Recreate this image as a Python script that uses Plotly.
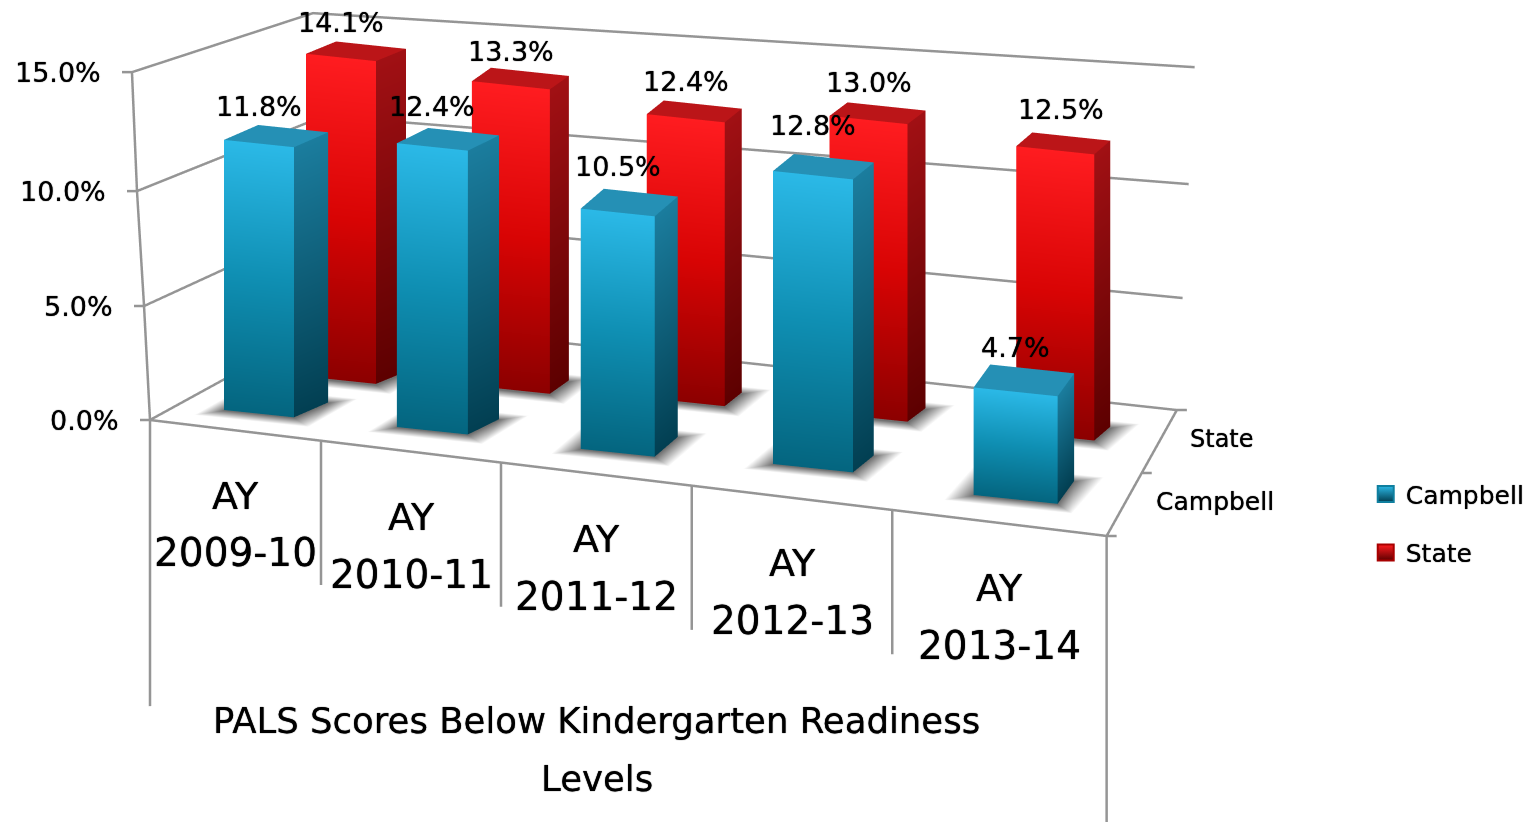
import math
import plotly.graph_objects as go

# ---- data ----
categories = ["2009-10", "2010-11", "2011-12", "2012-13", "2013-14"]
campbell = [11.8, 12.4, 10.5, 12.8, 4.7]
state = [14.1, 13.3, 12.4, 13.0, 12.5]
z_ticks = [0, 5, 10, 15]
z_tick_labels = ["0.0%", "5.0%", "10.0%", "15.0%"]

# ---- bar placement on the floor plane ----
campbell_x = [55.6, 227.4, 414, 601, 812]
campbell_y = [0.288, 0.306, 0.264, 0.347, 0.186]
campbell_w = [70, 71, 74, 80, 84]
campbell_depth = [0.30, 0.30, 0.36, 0.31, 0.40]
campbell_skew = [15, 12, 0, 1, -9]
state_x = [94, 251.3, 420, 599, 785]
state_y = [0.97, 1.105, 1.202, 1.262, 1.274]
state_w = [70, 78, 78, 78, 78]
state_depth = [0.25, 0.25, 0.25, 0.25, 0.25]
state_skew = [14, 3, 1, 2, 0]
state_lift = [35, 34, 37, 37, 41]
state_label_dx = [0, 0, 0, 0, 6]
campbell_lift = [37, 40, 46, 50, 44]
campbell_label_dx = [0, 0, 0, 0, 0]

# wall frame per tick level: front-left, back-left, back-right
wall_fl = [(0, 0), (-4.8, -0.018), (-11.6, -0.022), (-20.7, 0.042)]
wall_bl = [(60, 1.969), (76.5, 1.773), (77.3, 1.511), (79.4, 1.306)]
wall_br = [(905, 1.909), (912.7, 1.879), (918.6, 1.881), (921.4, 1.931)]
front_right = (973, -0.251)
divider_x = [174, 357, 551, 755]
divider_y = [-0.045, -0.092, -0.142, -0.195]
cat_x = [87, 265.7, 454.4, 653.9, 864]
cat_y = [-0.022, -0.068, -0.117, -0.169, -0.223]

XR, YR, ZR = (-60, 1100), (-0.5, 2.2), (-14, 16)

# ---- camera from the on-screen axis directions ----
W, H = 1530, 814
rx, ry, s_ = 0.944, 0.330, 0.3004
c_ = math.sqrt(1 - s_ * s_)
ux_, uy_, uz_ = 1.059, 193.9, 24.0
D = 2.0
S = H / D
aspect = dict(x=(XR[1] - XR[0]) * ux_ / S, y=(YR[1] - YR[0]) * uy_ / S, z=(ZR[1] - ZR[0]) * uz_ / S)


def world(x, y, z):
    return (((x - XR[0]) / (XR[1] - XR[0]) - .5) * aspect["x"],
            ((y - YR[0]) / (YR[1] - YR[0]) - .5) * aspect["y"],
            ((z - ZR[0]) / (ZR[1] - ZR[0]) - .5) * aspect["z"])


r = (rx, ry, 0)
u = (-ry * s_, rx * s_, c_)
n = (ry * c_, -rx * c_, s_)
P = world(0, 0, 0)
# floor corner (0,0,0) sits 623 px left of and 5 px below the view centre
C = tuple(P[i] + r[i] * 623 / S + u[i] * 5 / S for i in range(3))
E = tuple(C[i] + n[i] * D for i in range(3))

fig = go.Figure()


def add_bars(xs, ys, ws, ds, sk, vals, front, side, top, shadow_z):
    X, Y, Z, I, J, K, VC = [], [], [], [], [], [], []

    def quad(pts, cols):
        b = len(X)
        for p, col in zip(pts, cols):
            X.append(p[0]); Y.append(p[1]); Z.append(p[2]); VC.append(col)
        I.extend([b, b]); J.extend([b + 1, b + 2]); K.extend([b + 2, b + 3])

    for x, y, w, d, k, v in zip(xs, ys, ws, ds, sk, vals):
        # soft floor shadow: dark footprint fading to white
        px, py = 22, 0.12
        inner = [(x, y), (x + w, y), (x + w + k, y + d), (x + k, y + d)]
        outer = [(x - px, y - py), (x + w + px, y - py), (x + w + k + px, y + d + py), (x + k - px, y + d + py)]
        quad([(*p, shadow_z) for p in inner], ["#707070"] * 4)
        for a in range(4):
            b_ = (a + 1) % 4
            quad([(*outer[a], shadow_z), (*outer[b_], shadow_z), (*inner[b_], shadow_z), (*inner[a], shadow_z)],
                 ["#ffffff", "#ffffff", "#707070", "#707070"])
        quad([(x, y, 0), (x + w, y, 0), (x + w, y, v / 2), (x, y, v / 2)], [front[2], front[2], front[1], front[1]])
        quad([(x, y, v / 2), (x + w, y, v / 2), (x + w, y, v), (x, y, v)], [front[1], front[1], front[0], front[0]])
        quad([(x + w, y, 0), (x + w + k, y + d, 0), (x + w + k, y + d, v), (x + w, y, v)],
             [side[1], side[1], side[0], side[0]])
        quad([(x, y, v), (x + w, y, v), (x + w + k, y + d, v), (x + k, y + d, v)], [top] * 4)
    fig.add_trace(go.Mesh3d(x=X, y=Y, z=Z, i=I, j=J, k=K, vertexcolor=VC, flatshading=True,
                            lighting=dict(ambient=1, diffuse=0, specular=0, roughness=1, fresnel=0),
                            hoverinfo="skip", showscale=False, showlegend=False))


add_bars(state_x, state_y, state_w, state_depth, state_skew, state,
         ("#ff1c20", "#d80404", "#8c0000"), ("#a11014", "#5d0000"), "#bb1518", -0.06)
add_bars(campbell_x, campbell_y, campbell_w, campbell_depth, campbell_skew, campbell,
         ("#2bb9e7", "#0f8fb3", "#04657f"), ("#1b7d9e", "#023f52"), "#2590b5", -0.03)


def line(pts):
    fig.add_trace(go.Scatter3d(x=[p[0] for p in pts], y=[p[1] for p in pts], z=[p[2] for p in pts], mode="lines",
                               line=dict(color="#959595", width=5), hoverinfo="skip", showlegend=False))


TX, TY = 8.9, 0.017
for lv, fl, bl, br in zip(z_ticks, wall_fl, wall_bl, wall_br):
    line([(fl[0] - TX, fl[1] - TY, lv), (fl[0], fl[1], lv), (bl[0], bl[1], lv), (br[0], br[1], lv)])
line([(*wall_fl[i], z_ticks[i]) for i in range(4)])
line([(*wall_fl[0], 0), (*front_right, 0), (*wall_br[0], 0), (wall_br[0][0] + TX, wall_br[0][1] + TY, 0)])
line([(0, 0, 0), (0, 0, -12.5)])
line([(*front_right, 0), (*front_right, -13.5)])
for x, y in zip(divider_x, divider_y):
    line([(x, y, 0), (x, y, -6.3)])
midtick = ((front_right[0] + wall_br[0][0]) / 2, (front_right[1] + wall_br[0][1]) / 2)
line([(*midtick, 0), (midtick[0] + TX, midtick[1] + TY, 0)])
line([(*front_right, 0), (front_right[0] + TX, front_right[1] + TY, 0)])

FONT = "DejaVu Sans"
HEAVY = "0 0 1px #000000"


def note(x, y, z, text, size, **kw):
    return dict(x=x, y=y, z=z, text=text, showarrow=False,
                font=dict(family=FONT, size=size, color="#000000", shadow=HEAVY), **kw)


ann = []
for xs, ys, ws, vals, lift, ldx in ((campbell_x, campbell_y, campbell_w, campbell, campbell_lift, campbell_label_dx),
                                    (state_x, state_y, state_w, state, state_lift, state_label_dx)):
    for x, y, w, v, l_, dx_ in zip(xs, ys, ws, vals, lift, ldx):
        ann.append(note(x + w / 2, y, v, f"{v:.1f}%", 27, yshift=l_, xshift=dx_, xanchor="center", yanchor="middle"))
for lv, fl, lab in zip(z_ticks, wall_fl, z_tick_labels):
    ann.append(note(fl[0] - TX, fl[1] - TY, lv, lab, 27, xanchor="right", yanchor="middle", xshift=-19))
ann.append(note(920.6, 1.413, 0, "State", 24, xanchor="left", yanchor="middle", xshift=27))
ann.append(note(955, 0.332, 0, "Campbell", 25, xanchor="left", yanchor="middle", xshift=28))
for x, y, lab in zip(cat_x, cat_y, categories):
    ann.append(note(x, y, -2.85, "AY", 38, xanchor="center", yanchor="middle"))
    ann.append(note(x, y, -5.35, lab, 39, xanchor="center", yanchor="middle"))
ann.append(note(cat_x[2], cat_y[2], -10.75, "PALS Scores Below Kindergarten Readiness", 35.5, xanchor="center", yanchor="middle"))
ann.append(note(cat_x[2], cat_y[2], -13.3, "Levels", 35.5, xanchor="center", yanchor="middle"))

for name, col, dark, edge in (("Campbell", "#2bb9e7", "#023f52", "#0f7f9f"), ("State", "#ff1c20", "#5d0000", "#a80000")):
    fig.add_trace(go.Scatter(x=[None], y=[None], mode="markers", name=name, legendgroup=name,
                             marker=dict(symbol="square", size=16, color=col,
                                         line=dict(color=edge, width=2),
                                         gradient=dict(type="vertical", color=dark))))

ax_off = dict(visible=False, showgrid=False, zeroline=False, showspikes=False, title="")
fig.update_layout(
    width=W, height=H, margin=dict(l=0, r=0, t=0, b=0), paper_bgcolor="white", plot_bgcolor="white",
    showlegend=True,
    legend=dict(x=0.8874, y=0.431, xanchor="left", yanchor="top", bgcolor="rgba(0,0,0,0)", tracegroupgap=23,
                font=dict(family=FONT, size=25, color="#000000", shadow=HEAVY)),
    xaxis=dict(visible=False), yaxis=dict(visible=False),
    scene=dict(
        domain=dict(x=[0, 1], y=[0, 1]),
        xaxis={**ax_off, "range": list(XR)}, yaxis={**ax_off, "range": list(YR)}, zaxis={**ax_off, "range": list(ZR)},
        aspectmode="manual", aspectratio=aspect,
        camera=dict(projection=dict(type="orthographic"), eye=dict(x=E[0], y=E[1], z=E[2]),
                    center=dict(x=C[0], y=C[1], z=C[2]), up=dict(x=0, y=0, z=1)),
        annotations=ann,
    ),
)
fig.write_html("out.html")
